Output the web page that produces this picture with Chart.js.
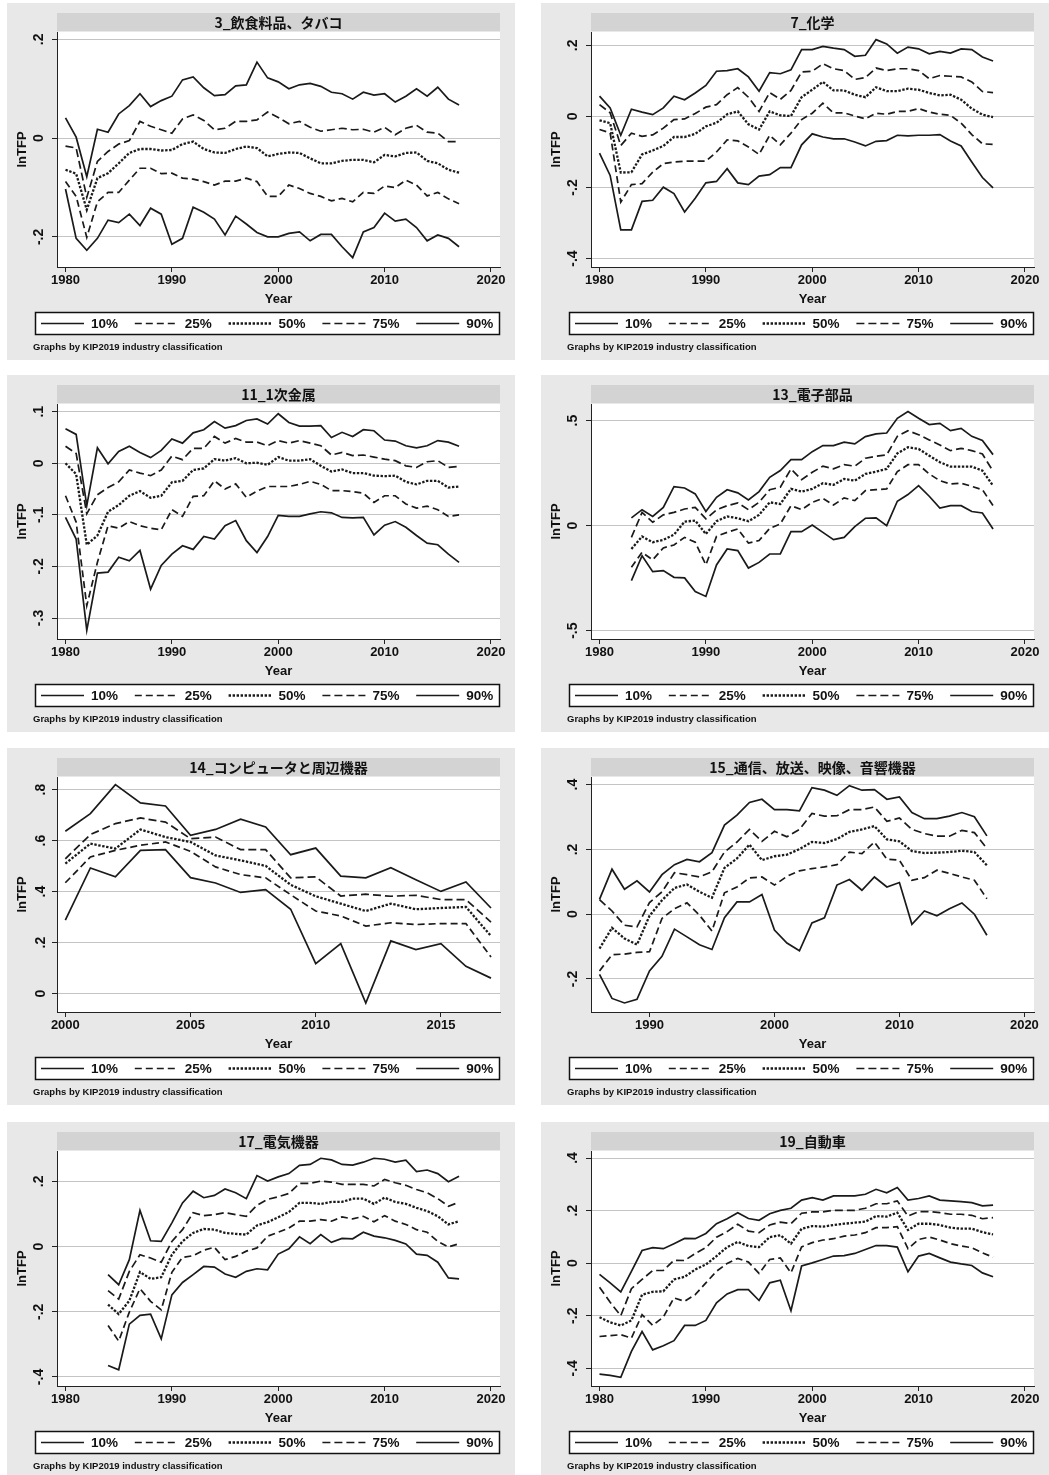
<!DOCTYPE html>
<html lang="ja">

<head>
    <meta charset="UTF-8">
    <title>lnTFP distribution by industry</title>
    <style>
        body {
            margin: 0;
            background: #fff;
            width: 1049px;
            height: 1475px;
            position: relative;
            overflow: hidden;
        }

        canvas.panel {
            position: absolute;
        }
    </style>
    <script src="https://cdn.jsdelivr.net/npm/chart.js"></script>
</head>

<body>
    <script>
        const years = [1980, 1981, 1982, 1983, 1984, 1985, 1986, 1987, 1988, 1989,
            1990, 1991, 1992, 1993, 1994, 1995, 1996, 1997, 1998, 1999,
            2000, 2001, 2002, 2003, 2004, 2005, 2006, 2007, 2008, 2009,
            2010, 2011, 2012, 2013, 2014, 2015, 2016, 2017];

        const seriesLabels = ['10%', '25%', '50%', '75%', '90%'];
        const titles = ['3_飲食料品、タバコ', '7_化学', '11_1次金属', '13_電子部品',
            '14_コンピュータと周辺機器', '15_通信、放送、映像、音響機器', '17_電気機器', '19_自動車'];
        const noteText = 'Graphs by KIP2019 industry classification';

        const xTicksDecade = [1980, 1990, 2000, 2010, 2020];
        const xTicksComp = [2000, 2005, 2010, 2015];
        const xTicksComm = [1990, 2000, 2010, 2020];

        const yTicksFood = [-0.2, 0, 0.2];
        const yTicksChem = [-0.4, -0.2, 0, 0.2];
        const yTicksMetal = [-0.3, -0.2, -0.1, 0, 0.1];
        const yTicksParts = [-0.5, 0, 0.5];
        const yTicksComp = [0, 0.2, 0.4, 0.6, 0.8];
        const yTicksComm = [-0.2, 0, 0.2, 0.4];
        const yTicksMach = [-0.4, -0.2, 0, 0.2];
        const yTicksAuto = [-0.4, -0.2, 0, 0.2, 0.4];

        // 3_飲食料品、タバコ (1980-2017)
        const food10 = [-0.103, -0.203, -0.227, -0.203, -0.166, -0.171, -0.154, -0.177, -0.142, -0.154,
            -0.215, -0.203, -0.140, -0.150, -0.164, -0.196, -0.158, -0.174, -0.191, -0.200,
            -0.200, -0.193, -0.190, -0.208, -0.195, -0.195, -0.220, -0.242, -0.190, -0.181,
            -0.152, -0.168, -0.164, -0.181, -0.208, -0.196, -0.203, -0.220];
        const food25 = [-0.088, -0.118, -0.201, -0.129, -0.110, -0.110, -0.085, -0.061, -0.061, -0.072,
            -0.071, -0.081, -0.083, -0.088, -0.095, -0.087, -0.087, -0.081, -0.088, -0.118,
            -0.118, -0.095, -0.102, -0.112, -0.118, -0.127, -0.122, -0.129, -0.110, -0.112,
            -0.097, -0.100, -0.085, -0.095, -0.117, -0.110, -0.123, -0.133];
        const food50 = [-0.064, -0.072, -0.145, -0.081, -0.071, -0.051, -0.030, -0.022, -0.022, -0.025,
            -0.024, -0.012, -0.007, -0.022, -0.029, -0.030, -0.022, -0.017, -0.020, -0.037,
            -0.032, -0.029, -0.030, -0.041, -0.051, -0.051, -0.046, -0.044, -0.044, -0.049,
            -0.034, -0.037, -0.030, -0.029, -0.046, -0.051, -0.064, -0.070];
        const food75 = [-0.016, -0.020, -0.120, -0.047, -0.027, -0.012, -0.005, 0.034, 0.024, 0.017,
            0.010, 0.039, 0.047, 0.036, 0.017, 0.020, 0.034, 0.034, 0.037, 0.053,
            0.042, 0.029, 0.034, 0.022, 0.014, 0.017, 0.020, 0.017, 0.018, 0.012,
            0.022, 0.007, 0.020, 0.026, 0.012, 0.010, -0.007, -0.007];
        const food90 = [0.041, 0.002, -0.078, 0.018, 0.012, 0.049, 0.066, 0.090, 0.064, 0.076,
            0.085, 0.118, 0.124, 0.102, 0.086, 0.088, 0.106, 0.108, 0.154, 0.122,
            0.114, 0.100, 0.108, 0.111, 0.105, 0.093, 0.090, 0.079, 0.093, 0.087,
            0.090, 0.073, 0.085, 0.100, 0.085, 0.103, 0.079, 0.067];

        // 7_化学 (1980-2017)
        const chem10 = [-0.103, -0.166, -0.319, -0.319, -0.239, -0.236, -0.199, -0.217, -0.269, -0.230,
            -0.187, -0.183, -0.147, -0.187, -0.192, -0.168, -0.164, -0.144, -0.144, -0.080,
            -0.049, -0.058, -0.063, -0.063, -0.072, -0.083, -0.070, -0.068, -0.053, -0.055,
            -0.053, -0.053, -0.051, -0.069, -0.083, -0.128, -0.172, -0.201];
        const chem25 = [-0.037, -0.046, -0.241, -0.192, -0.189, -0.157, -0.133, -0.128, -0.126, -0.126,
            -0.126, -0.100, -0.066, -0.069, -0.086, -0.107, -0.053, -0.080, -0.047, -0.009,
            0.009, 0.037, 0.010, 0.010, 0.001, -0.007, 0.009, 0.006, 0.014, 0.014,
            0.022, 0.012, 0.006, 0.003, -0.019, -0.051, -0.077, -0.079];
        const chem50 = [-0.011, -0.019, -0.158, -0.157, -0.107, -0.096, -0.083, -0.058, -0.058, -0.049,
            -0.028, -0.018, 0.006, 0.014, -0.022, -0.037, 0.014, 0.003, 0.001, 0.054,
            0.075, 0.097, 0.073, 0.073, 0.061, 0.054, 0.082, 0.071, 0.071, 0.078,
            0.075, 0.066, 0.059, 0.061, 0.047, 0.022, 0.005, -0.002];
        const chem75 = [0.033, 0.010, -0.082, -0.047, -0.056, -0.052, -0.033, -0.009, -0.007, 0.008,
            0.026, 0.033, 0.061, 0.081, 0.054, 0.014, 0.067, 0.048, 0.073, 0.125,
            0.127, 0.148, 0.134, 0.129, 0.104, 0.109, 0.136, 0.129, 0.134, 0.134,
            0.129, 0.106, 0.115, 0.113, 0.111, 0.097, 0.070, 0.067];
        const chem90 = [0.057, 0.024, -0.053, 0.020, 0.012, 0.005, 0.024, 0.057, 0.047, 0.066,
            0.087, 0.127, 0.129, 0.134, 0.111, 0.071, 0.123, 0.120, 0.131, 0.188,
            0.188, 0.197, 0.192, 0.188, 0.169, 0.172, 0.216, 0.204, 0.178, 0.195,
            0.190, 0.176, 0.183, 0.178, 0.190, 0.188, 0.167, 0.156];

        // 11_1次金属 (1980-2017)
        const metal10 = [-0.105, -0.147, -0.324, -0.213, -0.211, -0.182, -0.189, -0.169, -0.244, -0.198,
            -0.176, -0.160, -0.167, -0.142, -0.147, -0.121, -0.111, -0.150, -0.173, -0.142,
            -0.101, -0.103, -0.103, -0.098, -0.094, -0.096, -0.105, -0.106, -0.105, -0.139,
            -0.120, -0.113, -0.124, -0.140, -0.155, -0.158, -0.176, -0.192];
        const metal25 = [-0.063, -0.114, -0.276, -0.192, -0.121, -0.126, -0.113, -0.121, -0.126, -0.129,
            -0.090, -0.103, -0.064, -0.063, -0.034, -0.050, -0.040, -0.066, -0.054, -0.045,
            -0.045, -0.045, -0.041, -0.035, -0.041, -0.053, -0.053, -0.055, -0.058, -0.076,
            -0.063, -0.063, -0.079, -0.087, -0.083, -0.090, -0.103, -0.100];
        const metal50 = [0.000, -0.021, -0.158, -0.140, -0.094, -0.081, -0.063, -0.054, -0.067, -0.063,
            -0.037, -0.034, -0.013, -0.010, 0.008, 0.005, 0.010, 0.000, 0.001, -0.003,
            0.012, 0.005, 0.005, 0.008, -0.005, -0.016, -0.012, -0.019, -0.019, -0.024,
            -0.025, -0.024, -0.036, -0.041, -0.034, -0.034, -0.047, -0.045];
        const metal75 = [0.033, 0.019, -0.098, -0.061, -0.047, -0.036, -0.013, -0.019, -0.024, -0.013,
            0.014, 0.007, 0.029, 0.029, 0.052, 0.039, 0.048, 0.041, 0.041, 0.034,
            0.044, 0.039, 0.044, 0.039, 0.034, 0.016, 0.021, 0.015, 0.016, 0.012,
            0.008, 0.005, -0.005, -0.008, 0.003, 0.005, -0.008, -0.006];
        const metal90 = [0.067, 0.056, -0.082, 0.030, -0.001, 0.023, 0.033, 0.021, 0.011, 0.025,
            0.047, 0.039, 0.059, 0.065, 0.081, 0.068, 0.073, 0.083, 0.086, 0.076,
            0.096, 0.079, 0.072, 0.072, 0.073, 0.050, 0.060, 0.052, 0.065, 0.063,
            0.045, 0.043, 0.034, 0.030, 0.034, 0.044, 0.041, 0.033];

        // 13_電子部品 (1983-2017)
        const parts10 = [-0.262, -0.143, -0.219, -0.214, -0.246, -0.249, -0.314,
            -0.337, -0.187, -0.111, -0.119, -0.202, -0.175, -0.135, -0.135, -0.029, -0.029,
            0.003, -0.032, -0.067, -0.056, -0.005, 0.035, 0.037, 0.000, 0.116, 0.148,
            0.190, 0.140, 0.084, 0.095, 0.095, 0.067, 0.060, -0.016];
        const parts25 = [-0.198, -0.127, -0.163, -0.106, -0.092, -0.056, -0.079,
            -0.187, -0.051, -0.032, -0.016, -0.083, -0.071, -0.013, 0.008, 0.095, 0.076,
            0.111, 0.130, 0.098, 0.132, 0.119, 0.167, 0.171, 0.175, 0.257, 0.290,
            0.290, 0.246, 0.214, 0.198, 0.202, 0.187, 0.171, 0.095];
        const parts50 = [-0.111, -0.052, -0.079, -0.068, -0.043, 0.019, 0.024,
            -0.040, 0.021, 0.044, 0.035, 0.021, 0.051, 0.111, 0.103, 0.175, 0.162,
            0.175, 0.202, 0.194, 0.222, 0.214, 0.246, 0.257, 0.270, 0.344, 0.373,
            0.365, 0.333, 0.302, 0.281, 0.281, 0.281, 0.262, 0.190];
        const parts75 = [-0.056, 0.063, 0.016, 0.051, 0.063, 0.079, 0.087,
            0.032, 0.075, 0.095, 0.108, 0.076, 0.111, 0.171, 0.183, 0.270, 0.219,
            0.254, 0.283, 0.270, 0.290, 0.283, 0.321, 0.330, 0.337, 0.425, 0.452,
            0.433, 0.408, 0.384, 0.357, 0.368, 0.357, 0.341, 0.259];
        const parts90 = [0.037, 0.076, 0.044, 0.087, 0.186, 0.179, 0.151,
            0.067, 0.135, 0.171, 0.156, 0.122, 0.162, 0.230, 0.262, 0.314, 0.314,
            0.352, 0.381, 0.381, 0.397, 0.389, 0.424, 0.437, 0.441, 0.511, 0.543,
            0.511, 0.481, 0.487, 0.452, 0.463, 0.425, 0.405, 0.338];

        // 14_コンピュータと周辺機器 (2000-2017)
        const comp10 = [0.288, 0.493, 0.458, 0.562, 0.565, 0.455, 0.434, 0.397, 0.408, 0.331,
            0.118, 0.196, -0.037, 0.207, 0.173, 0.196, 0.107, 0.061];
        const comp25 = [0.435, 0.536, 0.562, 0.582, 0.595, 0.558, 0.497, 0.467, 0.454, 0.388,
            0.324, 0.305, 0.265, 0.278, 0.271, 0.275, 0.275, 0.144];
        const comp50 = [0.510, 0.588, 0.569, 0.644, 0.614, 0.595, 0.542, 0.523, 0.501, 0.427,
            0.382, 0.353, 0.324, 0.353, 0.331, 0.336, 0.340, 0.226];
        const comp75 = [0.529, 0.624, 0.667, 0.689, 0.673, 0.608, 0.614, 0.565, 0.565, 0.454,
            0.458, 0.383, 0.390, 0.382, 0.386, 0.369, 0.369, 0.281];
        const comp90 = [0.637, 0.706, 0.820, 0.748, 0.736, 0.621, 0.644, 0.684, 0.654, 0.545,
            0.571, 0.461, 0.454, 0.494, 0.447, 0.401, 0.438, 0.336];

        // 15_通信、放送、映像、音響機器 (1986-2017)
        const comm10 = [-0.186, -0.260, -0.274, -0.263,
            -0.175, -0.130, -0.046, -0.070, -0.094, -0.109, -0.011, 0.038, 0.038, 0.061,
            -0.049, -0.089, -0.113, -0.027, -0.011, 0.090, 0.107, 0.074, 0.115, 0.084,
            0.098, -0.031, 0.010, -0.005, 0.017, 0.035, 0.000, -0.065];
        const comm25 = [-0.175, -0.125, -0.123, -0.118,
            -0.116, -0.013, 0.017, 0.035, -0.003, -0.052, 0.066, 0.084, 0.112, 0.115,
            0.090, 0.117, 0.134, 0.141, 0.146, 0.153, 0.192, 0.187, 0.223, 0.170,
            0.167, 0.105, 0.113, 0.136, 0.126, 0.115, 0.105, 0.048];
        const comm50 = [-0.106, -0.042, -0.075, -0.094,
            -0.005, 0.043, 0.081, 0.092, 0.069, 0.051, 0.143, 0.172, 0.215, 0.167,
            0.179, 0.184, 0.201, 0.223, 0.220, 0.232, 0.254, 0.262, 0.272, 0.231,
            0.225, 0.195, 0.189, 0.190, 0.192, 0.196, 0.192, 0.151];
        const comm75 = [0.045, 0.010, -0.034, -0.039,
            0.036, 0.069, 0.128, 0.122, 0.115, 0.131, 0.192, 0.223, 0.262, 0.225,
            0.256, 0.239, 0.262, 0.311, 0.303, 0.304, 0.323, 0.323, 0.331, 0.287,
            0.297, 0.262, 0.249, 0.241, 0.241, 0.259, 0.252, 0.203];
        const comm90 = [0.046, 0.139, 0.077, 0.103,
            0.069, 0.122, 0.153, 0.169, 0.162, 0.190, 0.275, 0.306, 0.345, 0.355,
            0.323, 0.323, 0.319, 0.391, 0.383, 0.367, 0.397, 0.383, 0.385, 0.355,
            0.362, 0.314, 0.295, 0.295, 0.303, 0.314, 0.301, 0.242];

        // 17_電気機器 (1984-2017)
        const mach10 = [-0.365, -0.378, -0.238, -0.211, -0.207, -0.283,
            -0.148, -0.110, -0.086, -0.061, -0.063, -0.084, -0.094, -0.076, -0.068, -0.071,
            -0.023, -0.007, 0.030, 0.009, 0.037, 0.013, 0.025, 0.024, 0.044, 0.032,
            0.027, 0.019, 0.008, -0.023, -0.027, -0.048, -0.096, -0.099];
        const mach25 = [-0.242, -0.290, -0.201, -0.129, -0.168, -0.194,
            -0.079, -0.033, -0.028, -0.011, -0.002, -0.040, -0.030, -0.014, -0.004, 0.032,
            0.044, 0.057, 0.078, 0.078, 0.083, 0.078, 0.091, 0.085, 0.093, 0.076,
            0.095, 0.078, 0.068, 0.052, 0.044, 0.016, -0.001, 0.009];
        const mach50 = [-0.178, -0.207, -0.166, -0.078, -0.099, -0.094,
            -0.025, 0.016, 0.042, 0.054, 0.052, 0.042, 0.039, 0.037, 0.065, 0.075,
            0.090, 0.106, 0.134, 0.134, 0.131, 0.137, 0.137, 0.147, 0.147, 0.131,
            0.150, 0.137, 0.131, 0.119, 0.109, 0.093, 0.068, 0.078];
        const mach75 = [-0.135, -0.161, -0.076, -0.025, -0.035, -0.048,
            0.016, 0.052, 0.104, 0.095, 0.098, 0.104, 0.098, 0.093, 0.127, 0.145,
            0.153, 0.163, 0.194, 0.194, 0.201, 0.198, 0.191, 0.191, 0.191, 0.186,
            0.206, 0.196, 0.188, 0.175, 0.165, 0.147, 0.124, 0.136];
        const mach90 = [-0.086, -0.117, -0.040, 0.111, 0.018, 0.016,
            0.073, 0.134, 0.170, 0.150, 0.157, 0.177, 0.165, 0.147, 0.218, 0.201,
            0.214, 0.224, 0.249, 0.252, 0.271, 0.266, 0.252, 0.250, 0.259, 0.271,
            0.268, 0.259, 0.265, 0.230, 0.235, 0.224, 0.199, 0.216];

        // 19_自動車 (1980-2017)
        const auto10 = [-0.422, -0.427, -0.434, -0.336, -0.260, -0.330, -0.314, -0.295, -0.237, -0.237,
            -0.218, -0.151, -0.117, -0.101, -0.101, -0.142, -0.075, -0.065, -0.181, -0.011,
            0.001, 0.014, 0.027, 0.029, 0.037, 0.052, 0.067, 0.067, 0.061, -0.033,
            0.027, 0.037, 0.020, 0.004, -0.003, -0.009, -0.037, -0.052];
        const auto25 = [-0.279, -0.276, -0.272, -0.285, -0.196, -0.237, -0.205, -0.132, -0.145, -0.120,
            -0.075, -0.031, -0.001, 0.018, 0.004, -0.039, 0.014, 0.020, -0.037, 0.062,
            0.078, 0.088, 0.093, 0.103, 0.107, 0.116, 0.135, 0.135, 0.139, 0.055,
            0.090, 0.099, 0.088, 0.074, 0.065, 0.059, 0.039, 0.023];
        const auto50 = [-0.206, -0.225, -0.237, -0.218, -0.120, -0.109, -0.107, -0.062, -0.052, -0.024,
            -0.005, 0.027, 0.061, 0.081, 0.065, 0.061, 0.099, 0.106, 0.074, 0.131,
            0.141, 0.139, 0.145, 0.150, 0.154, 0.158, 0.179, 0.177, 0.192, 0.126,
            0.150, 0.150, 0.145, 0.135, 0.131, 0.131, 0.118, 0.109];
        const auto75 = [-0.092, -0.149, -0.200, -0.097, -0.062, -0.028, -0.028, 0.011, 0.010, 0.037,
            0.059, 0.099, 0.120, 0.148, 0.122, 0.116, 0.145, 0.156, 0.150, 0.190,
            0.195, 0.195, 0.201, 0.201, 0.201, 0.209, 0.226, 0.226, 0.237, 0.179,
            0.196, 0.196, 0.192, 0.186, 0.186, 0.182, 0.169, 0.173];
        const auto90 = [-0.043, -0.075, -0.109, -0.031, 0.048, 0.059, 0.055, 0.074, 0.094, 0.093,
            0.113, 0.150, 0.169, 0.192, 0.170, 0.163, 0.188, 0.201, 0.209, 0.240,
            0.249, 0.240, 0.256, 0.256, 0.256, 0.262, 0.281, 0.268, 0.288, 0.240,
            0.246, 0.256, 0.240, 0.237, 0.234, 0.230, 0.218, 0.221];

        const panels = [
            { title: titles[0], years: years, values: [food10, food25, food50, food75, food90], xMin: 1979.2, xMax: 2020.85, xTicks: xTicksDecade, yMin: -0.261, yMax: 0.215, yTicks: yTicksFood },
            { title: titles[1], years: years, values: [chem10, chem25, chem50, chem75, chem90], xMin: 1979.2, xMax: 2020.85, xTicks: xTicksDecade, yMin: -0.4236, yMax: 0.2374, yTicks: yTicksChem },
            { title: titles[2], years: years, values: [metal10, metal25, metal50, metal75, metal90], xMin: 1979.2, xMax: 2020.85, xTicks: xTicksDecade, yMin: -0.3407, yMax: 0.1149, yTicks: yTicksMetal },
            { title: titles[3], years: years.slice(3), values: [parts10, parts25, parts50, parts75, parts90], xMin: 1979.2, xMax: 2020.85, xTicks: xTicksDecade, yMin: -0.5397, yMax: 0.579, yTicks: yTicksParts },
            { title: titles[4], years: years.slice(20), values: [comp10, comp25, comp50, comp75, comp90], xMin: 1999.667, xMax: 2017.36, xTicks: xTicksComp, yMin: -0.0719, yMax: 0.8497, yTicks: yTicksComp },
            { title: titles[5], years: years.slice(6), values: [comm10, comm25, comm50, comm75, comm90], xMin: 1985.32, xMax: 2020.77, xTicks: xTicksComm, yMin: -0.3019, yMax: 0.4237, yTicks: yTicksComm },
            { title: titles[6], years: years.slice(4), values: [mach10, mach25, mach50, mach75, mach90], xMin: 1979.2, xMax: 2020.85, xTicks: xTicksDecade, yMin: -0.4277, yMax: 0.2933, yTicks: yTicksMach },
            { title: titles[7], years: years, values: [auto10, auto25, auto50, auto75, auto90], xMin: 1979.2, xMax: 2020.85, xTicks: xTicksDecade, yMin: -0.4674, yMax: 0.4267, yTicks: yTicksAuto }
        ];

        const seriesDash = [[], [7, 4], [2.4, 1.6], [8, 4], []];
        const seriesWidth = [1.7, 1.7, 2.3, 1.7, 1.7];
        const colLeft = [7, 541];
        const rowTop = [3, 375, 748, 1122];
        const latin = '"Liberation Sans", Arial, sans-serif';
        const tickFont = { family: latin, size: 13, weight: 'bold' };

        function fmtY(v) {
            const s = String(Math.round(v * 100) / 100);
            return s.replace(/^(-?)0\./, '$1.');
        }

        // gray tile, title strip, legend box and note, drawn like Stata's by() graphs
        const stataFrame = {
            id: 'stataFrame',
            beforeDraw(chart, args, opts) {
                const ctx = chart.ctx;
                const a = chart.chartArea;
                ctx.save();
                ctx.fillStyle = '#e8e8e8';
                ctx.fillRect(0, 0, chart.width, chart.height);
                ctx.fillStyle = '#fff';
                ctx.fillRect(a.left, a.top, a.right - a.left, a.bottom - a.top);
                ctx.fillStyle = '#d3d3d3';
                ctx.fillRect(a.left, 10, a.right - a.left, 18);
                ctx.fillStyle = '#111';
                ctx.font = 'bold 14px "Noto Sans CJK JP", sans-serif';
                ctx.textAlign = 'center';
                ctx.textBaseline = 'middle';
                ctx.fillText(opts.title, (a.left + a.right) / 2, 19.5);
                ctx.restore();
            },
            afterDraw(chart) {
                const ctx = chart.ctx;
                ctx.save();
                ctx.fillStyle = '#fff';
                ctx.fillRect(28, 309, 465, 23);
                ctx.strokeStyle = '#111';
                ctx.lineWidth = 1.5;
                ctx.strokeRect(28.5, 309.5, 464, 22);
                chart.data.datasets.forEach((ds, i) => {
                    const x0 = 34 + i * 93.8;
                    ctx.beginPath();
                    ctx.setLineDash(ds.borderDash);
                    ctx.lineWidth = ds.borderWidth;
                    ctx.strokeStyle = ds.borderColor;
                    ctx.moveTo(x0, 320.5);
                    ctx.lineTo(x0 + 43, 320.5);
                    ctx.stroke();
                    ctx.setLineDash([]);
                    ctx.fillStyle = '#111';
                    ctx.font = 'bold 13.5px ' + latin;
                    ctx.textAlign = 'left';
                    ctx.textBaseline = 'middle';
                    ctx.fillText(ds.label, x0 + 50, 321);
                });
                ctx.font = 'bold 9.5px ' + latin;
                ctx.fillText(noteText, 26, 344);
                ctx.restore();
            }
        };

        panels.forEach((p, i) => {
            const canvas = document.createElement('canvas');
            canvas.width = 508;
            canvas.height = 357;
            canvas.className = 'panel';
            canvas.style.left = colLeft[i % 2] + 'px';
            canvas.style.top = rowTop[Math.floor(i / 2)] + 'px';
            document.body.appendChild(canvas);

            const datasets = p.values.map((vals, k) => ({
                label: seriesLabels[k],
                data: vals.map((v, j) => ({ x: p.years[j], y: v })),
                borderColor: '#1a1a1a',
                borderWidth: seriesWidth[k],
                borderDash: seriesDash[k],
                pointRadius: 0,
                tension: 0,
                fill: false
            }));

            new Chart(canvas, {
                type: 'line',
                data: { datasets: datasets },
                options: {
                    responsive: false,
                    animation: false,
                    devicePixelRatio: 1,
                    layout: { padding: { top: 29, right: 15, bottom: 48, left: 0 } },
                    plugins: {
                        legend: { display: false },
                        title: { display: false },
                        tooltip: { enabled: false },
                        stataFrame: { title: p.title }
                    },
                    scales: {
                        x: {
                            type: 'linear',
                            min: p.xMin,
                            max: p.xMax,
                            afterBuildTicks: s => { s.ticks = p.xTicks.map(v => ({ value: v })); },
                            afterFit: s => { s.height = 45; },
                            grid: { drawOnChartArea: false, tickLength: 5, tickColor: '#222' },
                            border: { color: '#222', width: 1 },
                            ticks: { color: '#111', font: tickFont, padding: 1, maxRotation: 0, callback: v => String(v) },
                            title: { display: true, text: 'Year', color: '#111', font: tickFont, padding: { top: 0, bottom: 5 } }
                        },
                        y: {
                            min: p.yMin,
                            max: p.yMax,
                            afterBuildTicks: s => { s.ticks = p.yTicks.map(v => ({ value: v })); },
                            afterFit: s => { s.width = 50; },
                            grid: { color: '#c4c4c4', lineWidth: 1, tickLength: 5, tickColor: '#222' },
                            border: { color: '#222', width: 1 },
                            ticks: {
                                color: '#111', font: { family: latin, size: 14, weight: 'bold' },
                                minRotation: 90, maxRotation: 90, crossAlign: 'center', padding: 5,
                                callback: v => fmtY(v)
                            },
                            title: { display: true, text: 'lnTFP', color: '#111', font: { family: latin, size: 13, weight: 'bold' }, padding: { top: 8, bottom: 0 } }
                        }
                    }
                },
                plugins: [stataFrame]
            });
        });
    </script>
</body>

</html>
